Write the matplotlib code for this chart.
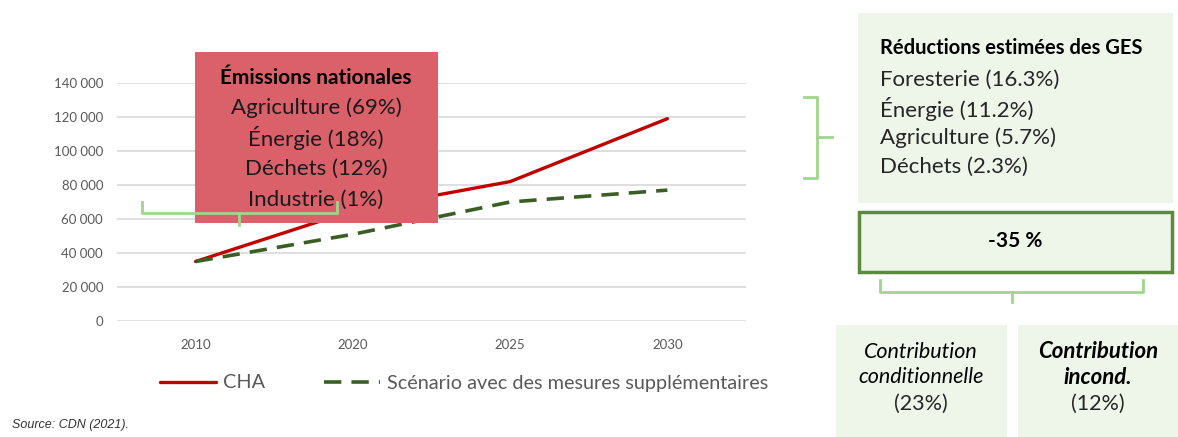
import matplotlib.pyplot as plt
from matplotlib.patches import Rectangle
from matplotlib.ticker import FuncFormatter

years = ['2010', '2020', '2025', '2030']
cha = [35000, 65000, 82000, 119000]
scenario = [35000, 51000, 70000, 77000]

emissions_title = 'Émissions nationales'
emissions = ['Agriculture (69%)', 'Énergie (18%)', 'Déchets (12%)', 'Industrie (1%)']
reductions_title = 'Réductions estimées des GES'
reductions = ['Foresterie (16.3%)', 'Énergie (11.2%)', 'Agriculture (5.7%)', 'Déchets (2.3%)']
total = '-35 %'
cond_share = '(23%)'
incond_share = '(12%)'

W, H = 1178, 437
plt.rcParams['font.family'] = ['Lato', 'DejaVu Sans']
fig = plt.figure(figsize=(W / 100, H / 100), dpi=100)

# main line chart
ax = fig.add_axes([117 / W, 1 - 321 / H, 629 / W, 238 / H])
x = range(len(years))
l1, = ax.plot(x, cha, color='#c00000', lw=2.4, solid_capstyle='round', label='CHA')
l2, = ax.plot(x, scenario, color='#3a5f25', lw=2.6, ls=(0, (4.8, 2.8)),
              label='Scénario avec des mesures supplémentaires')
ax.set_xlim(-0.5, 3.5)
ax.set_ylim(0, 140000)
ax.set_yticks(range(0, 140001, 20000))
ax.yaxis.set_major_formatter(FuncFormatter(lambda v, p: f'{int(v):,}'.replace(',', ' ')))
ax.set_xticks(list(x))
ax.set_xticklabels(years)
ax.grid(axis='y', color='#d9d9d9', lw=1.2)
ax.set_axisbelow(True)
for s in ax.spines.values():
    s.set_visible(False)
ax.tick_params(length=0, colors='#595959', labelsize=9.5)
ax.tick_params(axis='x', pad=13)
ax.tick_params(axis='y', pad=10)

leg = ax.legend(handles=[l1, l2], loc='center left', bbox_to_anchor=(160 / W, 1 - 383 / H),
                bbox_transform=fig.transFigure, ncol=2, frameon=False, fontsize=14.3,
                handlelength=2.8, columnspacing=3.0, handletextpad=0.35,
                borderpad=0, borderaxespad=0)
for t in leg.get_texts():
    t.set_color('#595959')

# overlay in pixel coords for boxes and brackets
ov = fig.add_axes([0, 0, 1, 1])
ov.set_xlim(0, W)
ov.set_ylim(H, 0)
ov.axis('off')

green_fill = '#eef5e9'
bracket = '#9fd68c'

ov.add_patch(Rectangle((195, 52), 243, 171, facecolor='#da6069', edgecolor='none'))
ov.text(316, 78, emissions_title, ha='center', va='center', fontsize=15, fontweight='bold')
for i, s in enumerate(emissions):
    ov.text(316, 108 + i * 30.5, s, ha='center', va='center', fontsize=16, color='#1a1a1a')

ov.plot([142, 142, 337, 337], [202, 213, 213, 202], color=bracket, lw=2)
ov.plot([239, 239], [213, 225], color=bracket, lw=2)

ov.add_patch(Rectangle((858, 13), 315, 190, facecolor=green_fill, edgecolor='none'))
ov.text(880, 48, reductions_title, ha='left', va='center', fontsize=14.5, fontweight='bold')
for i, s in enumerate(reductions):
    ov.text(880, 80 + i * 29, s, ha='left', va='center', fontsize=16, color='#262626')

ov.add_patch(Rectangle((859, 212), 313, 60, facecolor=green_fill, edgecolor='#5b8c3e', lw=2.5))
ov.text(1015, 241, total, ha='center', va='center', fontsize=15, fontweight='bold')

ov.plot([804, 817, 817, 804], [97, 97, 178, 178], color=bracket, lw=2)
ov.plot([817, 832], [137, 137], color=bracket, lw=2)

ov.plot([880, 880, 1143, 1143], [280, 292, 292, 280], color=bracket, lw=2)
ov.plot([1012, 1012], [292, 302], color=bracket, lw=2)

ov.add_patch(Rectangle((836, 325), 171, 112, facecolor=green_fill, edgecolor='none'))
ov.add_patch(Rectangle((1018, 325), 160, 112, facecolor=green_fill, edgecolor='none'))
ov.text(921, 352, 'Contribution', ha='center', va='center', fontsize=15.5, style='italic')
ov.text(921, 377, 'conditionnelle', ha='center', va='center', fontsize=15.5, style='italic')
ov.text(921, 404, cond_share, ha='center', va='center', fontsize=15.5, color='#262626')
ov.text(1098, 352, 'Contribution', ha='center', va='center', fontsize=16, style='italic',
        fontweight='bold')
ov.text(1098, 377, 'incond.', ha='center', va='center', fontsize=16, style='italic',
        fontweight='bold')
ov.text(1098, 404, incond_share, ha='center', va='center', fontsize=15.5, color='#262626')

ov.text(12, 425, 'Source: CDN (2021).', ha='left', va='center', fontsize=9,
        style='italic', family='Liberation Sans', color='#333333')

fig.savefig('out.png', dpi=100)
